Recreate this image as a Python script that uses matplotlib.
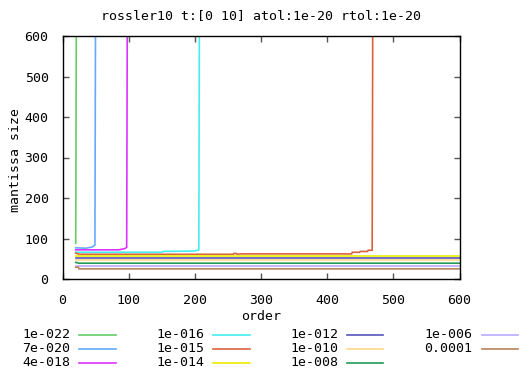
import matplotlib
matplotlib.use("Agg")
import matplotlib.pyplot as plt
from matplotlib.lines import Line2D

W, H = 532, 372

labels = ["1e-022", "7e-020", "4e-018", "1e-016", "1e-015", "1e-014",
          "1e-012", "1e-010", "1e-008", "1e-006", "0.0001"]
colors = ["#66cc66", "#66aaff", "#dd33ff", "#44eeee", "#d8643c", "#eeee00",
          "#5555bb", "#ffd888", "#229955", "#bbaaff", "#b8845e"]

# order / mantissa size for each tolerance
orders = [
    [20, 21],
    [20, 35, 45, 49, 50],
    [20, 85, 94, 97, 98],
    [20, 150, 152, 198, 204, 206, 207],
    [20, 25, 258, 259, 263, 264, 270, 437, 438, 449, 450, 461, 462, 468, 469],
    [20, 600],
    [20, 600],
    [20, 600],
    [20, 25, 600],
    [20, 600],
    [20, 24, 25, 600],
]
sizes = [
    [88, 700],
    [77, 76, 79, 84, 700],
    [72, 72, 75, 78, 700],
    [66, 66, 68, 69, 71, 72, 700],
    [64, 61, 61, 63, 63, 61, 62, 62, 66, 66, 68, 68, 71, 71, 700],
    [58, 58],
    [53, 53],
    [47, 47],
    [41, 39, 39],
    [33, 33],
    [29, 29, 25, 25],
]

plt.rcParams['font.family'] = ['DejaVu Sans Mono']
fig = plt.figure(figsize=(W / 100, H / 100), dpi=100)
ax = fig.add_axes([62.5 / W, 1 - 279 / H, 397 / W, 243 / H])

for x, y, c in zip(orders, sizes, colors):
    ax.plot(x, y, color=c, linewidth=1.2, solid_joinstyle='miter')

ax.set_xlim(0, 600)
ax.set_ylim(0, 600)
ax.set_xticks(range(0, 601, 100))
ax.set_yticks(range(0, 601, 100))
ax.tick_params(direction='in', length=4, width=1, top=True, right=True,
               labelsize=9.5, color='#555555')
ax.tick_params(axis='x', pad=11)
ax.tick_params(axis='y', pad=10)
for s in ax.spines.values():
    s.set_linewidth(1)

fig.text(261 / W, 1 - 16 / H, "rossler10 t:[0 10] atol:1e-20 rtol:1e-20",
         ha='center', va='center', fontsize=9.5)
fig.text(261 / W, 1 - 317 / H, "order", ha='center', va='center', fontsize=9.5)
fig.text(16 / W, 1 - 160 / H, "mantissa size", ha='center', va='center',
         rotation=90, fontsize=9.5)

# legend, column major, text before line
col_text = [70, 204, 338, 472]
col_line = [(79, 116), (213, 250), (347, 383), (482, 518)]
row_y = [335, 349, 362.5]
for i, (lab, c) in enumerate(zip(labels, colors)):
    col, row = divmod(i, 3)
    y = 1 - row_y[row] / H
    fig.text(col_text[col] / W, y, lab, ha='right', va='center', fontsize=9.5)
    x0, x1 = col_line[col]
    fig.add_artist(Line2D([x0 / W, x1 / W], [y, y], color=c, linewidth=1.2,
                          transform=fig.transFigure))

fig.savefig("out.png", dpi=100)
